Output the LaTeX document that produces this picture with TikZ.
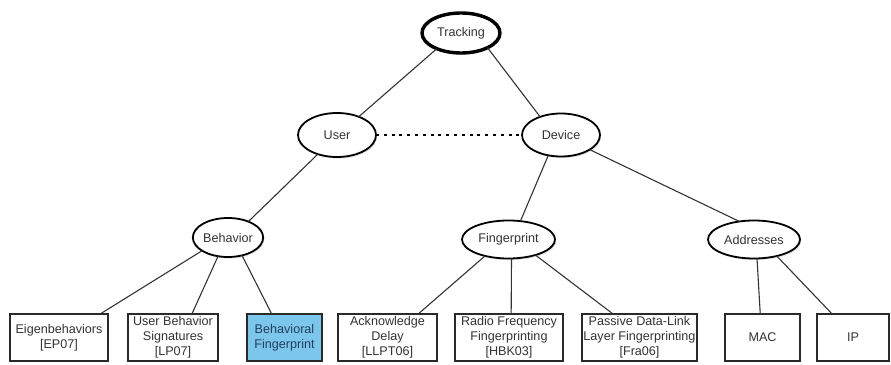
\documentclass[tikz,border=0pt]{standalone}
\usepackage{fontspec}
\setmainfont{Liberation Sans}
\usetikzlibrary{shadows,calc,shapes.geometric}

\definecolor{inkgray}{HTML}{333333}
\definecolor{edgegray}{HTML}{2A2A2A}
\definecolor{hlfill}{HTML}{7CC6EC}
\definecolor{hltext}{HTML}{22405E}

\tikzset{
  topic/.style={ellipse, draw=black, line width=1.8pt, fill=white, outer sep=0pt,
    inner sep=0pt, text=inkgray, font=\fontsize{12.6}{15}\selectfont,
    drop shadow={shadow xshift=1.2pt, shadow yshift=-1.6pt, opacity=0.25}},
  roottopic/.style={topic, line width=3.4pt},
  leaf/.style={rectangle, draw=edgegray, line width=1.3pt, fill=white, outer sep=0pt,
    inner sep=0pt, minimum height=47pt, align=center, text=inkgray,
    font=\fontsize{12.6}{15}\selectfont,
    drop shadow={shadow xshift=1pt, shadow yshift=-1.2pt, opacity=0.2}},
  hlleaf/.style={leaf, fill=hlfill, text=hltext},
  link/.style={draw=black!80, line width=1.1pt},
  peer/.style={draw=black, line width=2.6pt, dash pattern=on 3pt off 4.8pt}
}

\begin{document}
\begin{tikzpicture}[x=1pt, y=1pt]
\useasboundingbox (0,0) rectangle (891,364);

% upper levels of the tree
\node[roottopic, minimum width=78pt, minimum height=40pt] (track) at (461,331) {Tracking};
\node[topic, minimum width=78pt, minimum height=44pt] (user) at (337,229) {User};
\node[topic, minimum width=78pt, minimum height=43pt] (device) at (561,229) {Device};
\node[topic, minimum width=70pt, minimum height=39pt] (beh) at (228,126.5) {Behavior};
\node[topic, minimum width=93pt, minimum height=38pt] (fp) at (508.5,124.5) {Fingerprint};
\node[topic, minimum width=92pt, minimum height=38pt] (addr) at (754,124.5) {Addresses};

% leaves
\node[leaf, minimum width=98pt] (eig) at (59,26.5) {Eigenbehaviors\\{[EP07]}};
\node[leaf, minimum width=90pt] (ubs) at (173,26.5) {User Behavior\\Signatures\\{[LP07]}};
\node[hlleaf, minimum width=75pt] (bfp) at (284.5,26.5) {Behavioral\\Fingerprint};
\node[leaf, minimum width=99pt] (ack) at (387.5,26.5) {Acknowledge\\Delay\\{[LLPT06]}};
\node[leaf, minimum width=108pt] (rf) at (509,26.5) {Radio Frequency\\Fingerprinting\\{[HBK03]}};
\node[leaf, minimum width=115pt] (pdl) at (639.5,26.5) {Passive Data-Link\\Layer Fingerprinting\\{[Fra06]}};
\node[leaf, minimum width=75pt] (mac) at (762.5,26.5) {MAC};
\node[leaf, minimum width=72pt] (ip) at (853,26.5) {IP};

% connectors
\path[link] (track.213) -- (user.40);
\path[link] (track.331) -- (device.139);
\path[link] (user.225) -- (beh.38);
\path[link] (device.238) -- (fp.57);
\path[link] (device.333) -- (addr.129);
\path[link] (beh.207) -- ($(eig.north west)!0.92!(eig.north east)$);
\path[link] (beh.242) -- ($(ubs.north west)!0.71!(ubs.north east)$);
\path[link] (beh.308) -- ($(bfp.north west)!0.33!(bfp.north east)$);
\path[link] (fp.215) -- ($(ack.north west)!0.81!(ack.north east)$);
\path[link] (fp.279) -- ($(rf.north west)!0.52!(rf.north east)$);
\path[link] (fp.330) -- ($(pdl.north west)!0.27!(pdl.north east)$);
\path[link] (addr.279) -- ($(mac.north west)!0.47!(mac.north east)$);
\path[link] (addr.324) -- ($(ip.north west)!0.21!(ip.north east)$);

% link between the two kinds of tracking
\path[peer] (user.east) -- (device.west);
\end{tikzpicture}
\end{document}
